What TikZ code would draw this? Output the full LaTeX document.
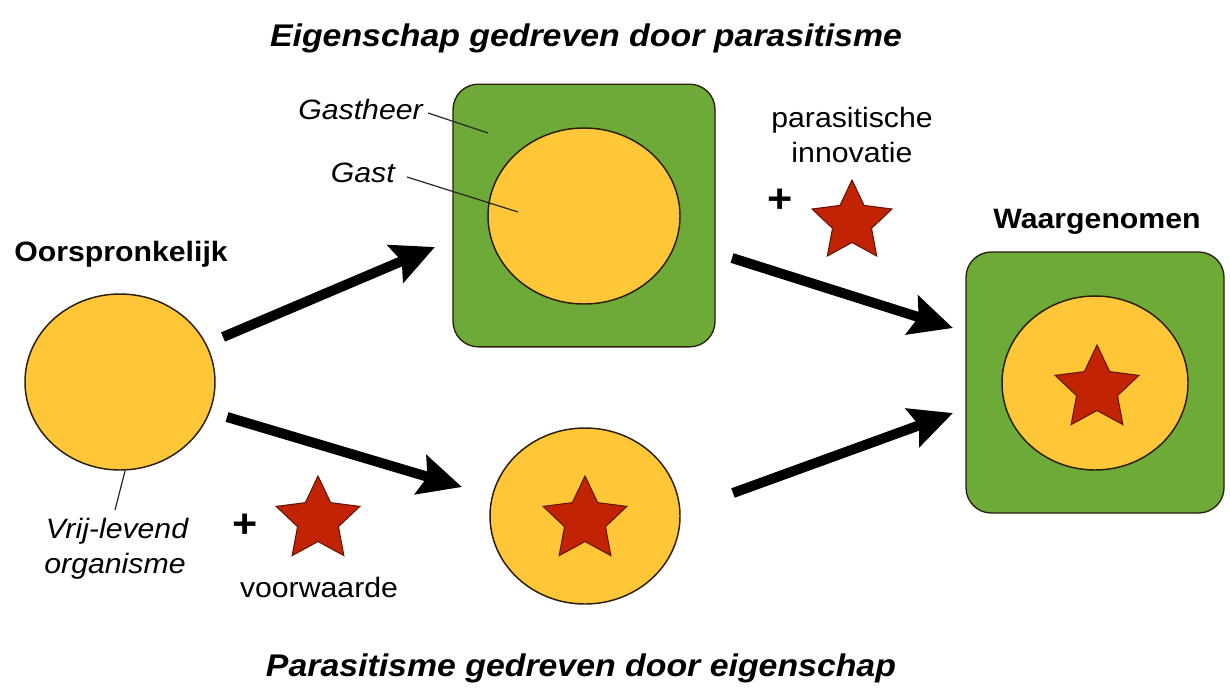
\documentclass[tikz,border=0pt]{standalone}
\usepackage{fontspec}
\setmainfont{Liberation Sans}[FakeStretch=1.08]
\usetikzlibrary{arrows.meta,shapes.geometric}
\definecolor{hostg}{RGB}{110,170,55}
\definecolor{celly}{RGB}{255,198,55}
\definecolor{starr}{RGB}{195,35,5}
\definecolor{stard}{RGB}{100,20,0}
\definecolor{outl}{RGB}{40,30,10}
\begin{document}
\begin{tikzpicture}[x=0.75pt,y=-0.75pt,
  every node/.style={inner sep=0pt},
  txt/.style={font=\fontsize{21pt}{26pt}\selectfont, anchor=base},
  itxt/.style={font=\fontsize{21pt}{26pt}\selectfont\itshape, anchor=base},
  ttl/.style={font=\fontsize{23.5pt}{28pt}\selectfont\bfseries\itshape, anchor=base},
  hdr/.style={font=\fontsize{21pt}{26pt}\selectfont\bfseries, anchor=base},
  plus/.style={font=\fontsize{30pt}{34pt}\selectfont\bfseries},
  cell/.style={ellipse, draw=outl, line width=1.1pt, fill=celly},
  hostbox/.style={rectangle, rounded corners=19pt, draw=outl, line width=1pt, fill=hostg},
  trait/.style={star, star points=5, star point ratio=2.05, minimum size=66pt, draw=stard, line width=0.8pt, fill=starr},
  arr/.style={line width=7.5pt, -{Stealth[length=32pt,width=30pt,inset=5pt]}},
  lead/.style={line width=0.9pt, draw=black!85}
]
\path[use as bounding box, fill=white] (0,0) rectangle (1230,689);

% titles
\node[ttl] (t1) at (586,46) {Eigenschap gedreven door parasitisme};
\node[ttl] (t2) at (581,676) {Parasitisme gedreven door eigenschap};

% original
\node[hdr] (orig) at (121,261) {Oorspronkelijk};
\node[cell, minimum width=142.5pt, minimum height=132pt] (c0) at (120,382) {};
\node[itxt] (vrij1) at (117,538) {Vrij-levend};
\node[itxt] (vrij2) at (115,573) {organisme};
\coordinate (v0) at (125,471);
\coordinate (v1) at (115,510);
\draw[lead] (v0) -- (v1);

% top: host with guest
\node[hostbox, minimum width=196.5pt, minimum height=197pt] (h1) at (584,215.5) {};
\node[cell, minimum width=144pt, minimum height=132pt] (c1) at (584,216) {};
\node[itxt, anchor=base east] (gh) at (423,119) {Gastheer};
\node[itxt, anchor=base east] (gs) at (395,182) {Gast};
\coordinate (gh0) at (428,113);
\coordinate (gh1) at (488,133);
\coordinate (gs0) at (407,177);
\coordinate (gs1) at (518,212);
\draw[lead] (gh0) -- (gh1);
\draw[lead] (gs0) -- (gs1);

% parasitic innovation
\node[txt] (pi1) at (852,127) {parasitische};
\node[txt] (pi2) at (852,162) {innovatie};
\node[plus] (pl1) at (780,201) {+};
\node[trait, minimum size=63pt] (s1) at (852,222) {};

% bottom: free-living with trait
\node[cell, minimum width=142.5pt, minimum height=132pt] (c2) at (585,516) {};
\node[trait] (s2) at (585,520) {};
\node[plus] (pl2) at (245,526) {+};
\node[trait] (s3) at (318,520) {};
\node[txt] (vw) at (319,597) {voorwaarde};

% observed
\node[hdr] (obs) at (1097,228) {Waargenomen};
\node[hostbox, minimum width=193.5pt, minimum height=195.75pt] (h2) at (1095,382.5) {};
\node[cell, minimum width=139.5pt, minimum height=130.5pt] (c3) at (1095,383) {};
\node[trait] (s4) at (1097,389) {};

% arrows
\coordinate (a1s) at (223,337);
\coordinate (a1e) at (435,247);
\coordinate (a2s) at (227,417);
\coordinate (a2e) at (462,487);
\coordinate (a3s) at (732,258);
\coordinate (a3e) at (953,328);
\coordinate (a4s) at (733,493);
\coordinate (a4e) at (953,413);
\draw[arr] (a1s) -- (a1e);
\draw[arr] (a2s) -- (a2e);
\draw[arr] (a3s) -- (a3e);
\draw[arr] (a4s) -- (a4e);
\end{tikzpicture}
\end{document}
